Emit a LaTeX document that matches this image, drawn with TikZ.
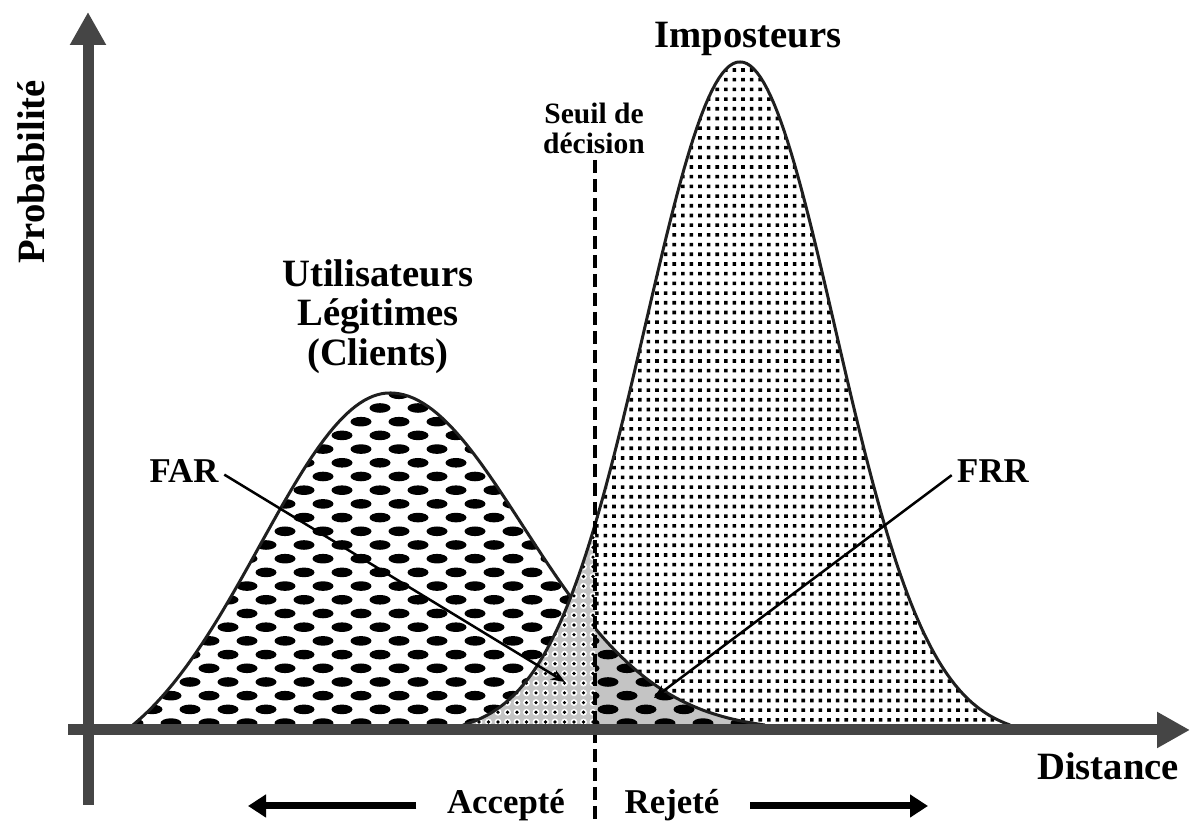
\documentclass[tikz,border=0pt]{standalone}
\usepackage{fontspec}
\setmainfont{Liberation Serif}
\usetikzlibrary{arrows.meta}

\definecolor{axisgray}{gray}{0.27}
\definecolor{areagray}{gray}{0.77}
\definecolor{curveblack}{gray}{0.12}

% areas under the two curves
\newcommand{\clientarea}{(133,725) -- plot[domain=133:390,samples=60] (\x,{cliL(\x)}) -- plot[domain=390:765,samples=80] (\x,{cliR(\x)}) -- cycle}
\newcommand{\impostorarea}{(463,725) -- plot[domain=463:740,samples=80] (\x,{impL(\x)}) -- plot[domain=740:1010,samples=80] (\x,{impR(\x)}) -- cycle}

% big black ellipses
\newcommand{\clientdots}{%
  \foreach \k in {0,...,25}{
    \fill[black] \foreach \m in {0,...,17}{
      ({114+19*mod(\k+1,2)+38*\m},{394.3+13.7*\k}) ellipse (10.5 and 4.8)};}
}

\tikzset{
  axisline/.style={axisgray, line width=1.1mm, -{Triangle[length=3.3mm,width=3.4mm]}},
  curveline/.style={curveblack, line width=0.3mm},
  pointer/.style={black, line width=0.25mm, -{Stealth[length=1.4mm,width=1.1mm]}, shorten <=0.6mm},
  sidearrow/.style={black, line width=0.7mm, -{Triangle[length=1.8mm,width=2.2mm]}, shorten <=3mm},
  biglabel/.style={font=\fontsize{11}{11.2}\selectfont\bfseries, inner sep=0pt, align=center},
  midlabel/.style={font=\fontsize{9.9}{11}\selectfont\bfseries, inner sep=0pt},
  smalllabel/.style={font=\fontsize{8.4}{8.5}\selectfont\bfseries, inner sep=0pt, align=center}
}

\begin{document}
\begin{tikzpicture}[x=0.1mm, y=-0.1mm,
  declare function={
    cliL(\x)=725-332*(exp(-0.5*((\x-390)/130)^2)-0.1417)/0.8583;
    cliR(\x)=725-332*(exp(-0.5*((\x-390)/133)^2)-0.0188)/0.9812;
    impL(\x)=725-663*(exp(-0.5*((\x-740)/95)^2)-0.0143)/0.9857;
    impR(\x)=725-663*(exp(-0.5*((\x-740)/95)^2)-0.0176)/0.9824;
  }]
\useasboundingbox (0,0) rectangle (1190,823);

% clients
\begin{scope}
  \clip \clientarea;
  \clientdots
\end{scope}

% impostors
\begin{scope}
  \clip \impostorarea;
  \fill[white] (463,0) rectangle (1010,725);
  \foreach \m in {-33,...,32}{
    \fill[black] \foreach \k in {0,...,68}{
      ({741.2+8.6*\m},{68.2+9.7*\k}) rectangle ++(3.6,3.6)};}
\end{scope}

% FRR
\begin{scope}
  \clip \clientarea;
  \clip (595,0) rectangle (1190,725);
  \fill[areagray] (595,0) rectangle (1190,725);
  \clientdots
\end{scope}

\draw[curveline] plot[domain=133:390,samples=60] (\x,{cliL(\x)})
  -- plot[domain=390:765,samples=80] (\x,{cliR(\x)});

% FAR
\begin{scope}
  \clip \impostorarea;
  \clip (0,0) rectangle (595,725);
  \fill[areagray] (0,0) rectangle (595,725);
  \foreach \m in {0,...,14}{
    \fill[white] \foreach \k in {0,...,32}{
      ({593-9.5*\m},{722-9.7*\k}) circle (3.4)};
    \fill[black] \foreach \k in {0,...,32}{
      ({593-9.5*\m},{722-9.7*\k}) circle (1.8)};}
\end{scope}

\draw[curveline] plot[domain=463:740,samples=80] (\x,{impL(\x)})
  -- plot[domain=740:1010,samples=80] (\x,{impR(\x)});

% threshold
\coordinate (seuilTop) at (595,160);
\coordinate (seuilBot) at (595,823);
\draw[black, line width=0.4mm, dash pattern=on 1.3mm off 0.6mm] (seuilTop) -- (seuilBot);

% axes
\coordinate (ybot) at (88,805);
\coordinate (ytop) at (88,12);
\coordinate (xleft) at (68,730);
\coordinate (xright) at (1190,730);
\draw[axisline] (ybot) -- (ytop);
\draw[axisline] (xleft) -- (xright);

% labels
\node (imp) [biglabel, anchor=base] at (748,48) {Imposteurs};
\node (seuil) [smalllabel, anchor=north] at (594,102) {Seuil de\\décision};
\node (cli) [biglabel, anchor=north] at (378,259) {Utilisateurs\\Légitimes\\(Clients)};
\node (far) [midlabel, anchor=base] at (184,483) {FAR};
\node (frr) [midlabel, anchor=base] at (993,483) {FRR};
\node (dist) [biglabel, anchor=base] at (1108,780) {Distance};
\node (prob) [biglabel, rotate=90, anchor=base] at (44,172) {Probabilité};
\node (acc) [midlabel, anchor=base] at (506,814) {Accepté};
\node (rej) [midlabel, anchor=base] at (672,814) {Rejeté};

\coordinate (farTip) at (565,682);
\coordinate (frrTip) at (654,698);
\draw[pointer] (far.east) -- (farTip);
\draw[pointer] (frr.west) -- (frrTip);

\coordinate (accTip) at (248,806);
\coordinate (rejTip) at (928,806);
\draw[sidearrow] (acc.west |- accTip) -- (accTip);
\draw[sidearrow] (rej.east |- rejTip) -- (rejTip);
\end{tikzpicture}
\end{document}
